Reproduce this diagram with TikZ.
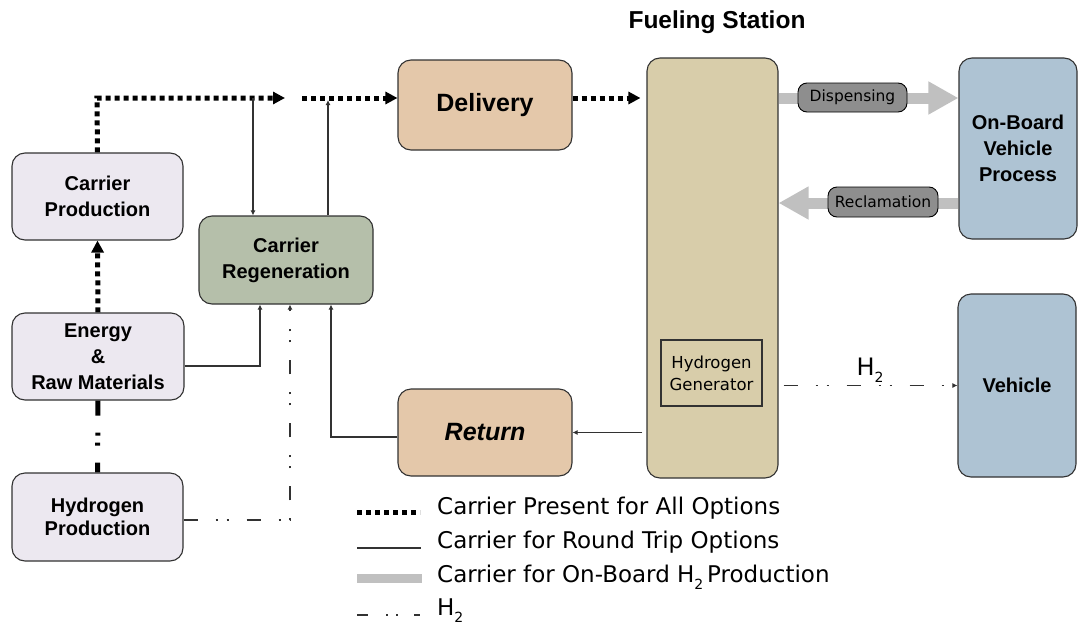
\documentclass[tikz,border=0pt]{standalone}
\usepackage{fontspec}
\setmainfont{DejaVu Sans}
\newfontfamily\labfont{Liberation Sans}
\usetikzlibrary{arrows.meta}

\definecolor{lavender}{RGB}{236,232,240}
\definecolor{sage}{RGB}{181,191,170}
\definecolor{tan}{RGB}{228,200,170}
\definecolor{station}{RGB}{216,205,170}
\definecolor{steel}{RGB}{174,195,211}
\definecolor{flowgray}{RGB}{192,192,192}
\definecolor{tag}{RGB}{142,142,142}
\definecolor{edge}{RGB}{50,50,50}

\begin{document}
\begin{tikzpicture}[x=1pt,y=-1pt,
  box/.style={draw=edge, line width=1.1pt, rounded corners=13pt, align=center,
    inner sep=0pt, font=\labfont\bfseries\fontsize{20}{26}\selectfont},
  bigbox/.style={box, font=\labfont\bfseries\fontsize{25}{30}\selectfont},
  tagbox/.style={draw=black, line width=0.9pt, fill=tag, rounded corners=9pt,
    inner sep=0pt, font=\fontsize{15.5}{18}\selectfont},
  allopt/.style={line width=5pt, dash pattern=on 5pt off 4pt},
  allarrow/.style={allopt, -{Triangle[length=12pt 0,width=12pt 0]}},
  rtrip/.style={line width=1.1pt, draw=edge},
  rtarrow/.style={rtrip, -{Latex[length=5pt 0,width=5pt 0]}},
  htwo/.style={line width=1.1pt, draw=edge,
    dash pattern=on 14pt off 18pt on 2pt off 9pt on 2pt off 18pt},
  htwoarrow/.style={htwo, -{Latex[length=5pt 0,width=5pt 0]}},
  onboard/.style={line width=11pt, draw=flowgray,
    -{Triangle[length=30pt 0,width=31pt 0]}},
  legtext/.style={anchor=mid west, inner sep=0pt, font=\fontsize{23}{26}\selectfont}
]
\useasboundingbox (0,0) rectangle (1079,632);

% ---- blocks ----
\node[box, fill=lavender, minimum width=171pt, minimum height=87pt] (cp) at (97.5,196.5) {Carrier\\Production};
\node[box, fill=lavender, minimum width=172pt, minimum height=87pt] (en) at (98,356.5) {Energy\\\&\\Raw Materials};
\node[box, fill=lavender, minimum width=171pt, minimum height=88pt,
  font=\labfont\bfseries\fontsize{20}{23}\selectfont] (hp) at (97.5,517) {Hydrogen\\Production};
\node[box, fill=sage, minimum width=174pt, minimum height=88pt] (cr) at (286,260) {Carrier\\Regeneration};
\node[bigbox, fill=tan, minimum width=174pt, minimum height=90pt] (dl) at (485,105) {Delivery};
\node[bigbox, fill=tan, minimum width=174pt, minimum height=87pt] (rt) at (485,432.5) {\itshape Return};
\node[box, fill=station, minimum width=131pt, minimum height=420pt] (fs) at (712.5,268) {};
\node[draw=edge, line width=1.1pt, minimum width=101pt, minimum height=66pt, inner sep=0pt,
  align=center, font=\fontsize{16.5}{22}\selectfont] (hg) at (711.5,373) {Hydrogen\\Generator};
\node[box, fill=steel, minimum width=118pt, minimum height=181pt] (ob) at (1018,148.5) {On-Board\\Vehicle\\Process};
\node[box, fill=steel, minimum width=118pt, minimum height=183pt] (vh) at (1017,385.5) {Vehicle};
\node[font=\labfont\bfseries\fontsize{24.5}{28}\selectfont, inner sep=0pt] (title) at (717,22) {Fueling Station};

% ---- carrier present for all options ----
\coordinate (bend) at (97,98);
\coordinate (gapL) at (285,98);
\coordinate (gapR) at (302,98);
\draw[allarrow] (cp.north) -- (bend) -- (gapL);
\draw[allarrow] (gapR) -- (gapR -| dl.west);
\draw[allarrow, shorten >=6pt] (dl.east |- gapR) -- (fs.west |- gapR);
\draw[allarrow] (en.north) -- (cp.south);
\draw[line width=5pt, dash pattern=on 15pt off 17pt on 3pt off 7pt on 3pt off 17pt on 14pt]
  (en.south) -- (hp.north);

% ---- round trip ----
\coordinate (tapA) at (253,98);
\coordinate (tapB) at (328,100);
\draw[rtarrow] (tapA) -- (tapA |- cr.north);
\draw[rtarrow] (tapB |- cr.north) -- (tapB);
\draw[rtarrow] ([yshift=-9.5pt]en.east) -| ([xshift=-26pt]cr.south);
\draw[rtarrow] ([yshift=-4.5pt]rt.west) -| ([xshift=45pt]cr.south);
\draw[rtarrow, shorten <=4pt] (fs.west |- rt.east) -- (rt.east);

% ---- hydrogen ----
\draw[htwoarrow] ([yshift=-3pt]hp.east) -| ([xshift=4pt]cr.south);
\draw[htwoarrow, shorten <=5pt] (fs.east |- vh.west) -- (vh.west);
\node[font=\fontsize{24}{26}\selectfont, inner sep=0pt] (h2lab) at (870,370)
  {H\raisebox{-0.3em}{\fontsize{14}{14}\selectfont 2}};

% ---- on-board production ----
\draw[onboard] (fs.east |- 0,98) -- (ob.west |- 0,98);
\draw[onboard] (ob.west |- 0,203) -- (fs.east |- 0,203);
\node[tagbox, minimum width=109pt, minimum height=29pt] (disp) at (852.5,97.5) {Dispensing};
\node[tagbox, minimum width=110pt, minimum height=30pt] (recl) at (883,202) {Reclamation};

% ---- legend ----
\node[legtext] (lg1) at (437,512) {Carrier Present for All Options};
\node[legtext] (lg2) at (437,546) {Carrier for Round Trip Options};
\node[legtext] (lg3) at (437,580) {Carrier for On-Board H\raisebox{-0.3em}{\fontsize{14}{14}\selectfont 2}\,Production};
\node[legtext] (lg4) at (437,613) {H\raisebox{-0.3em}{\fontsize{14}{14}\selectfont 2}};
\draw[allopt] (357,512) -- (420,512);
\draw[rtrip] (357,548) -- (421,548);
\draw[line width=9pt, draw=flowgray] (357,578) -- (422,578);
\draw[line width=1.1pt, draw=edge, dash pattern=on 11pt off 18pt on 2pt off 8pt on 2pt off 16pt on 6pt]
  (357,615) -- (420,615);
\end{tikzpicture}
\end{document}
